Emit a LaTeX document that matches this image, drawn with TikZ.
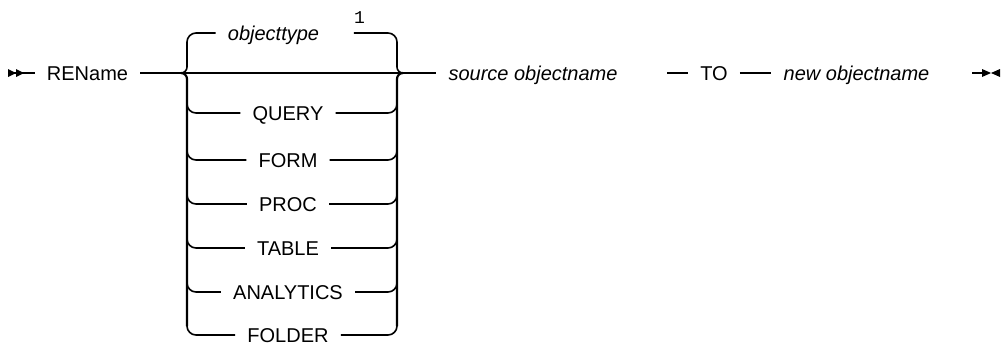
\documentclass[tikz,border=0pt]{standalone}
\usepackage{fontspec}
\setmainfont{Liberation Sans}
\newfontfamily\notefont{Liberation Mono}
\usepackage{tikz}
\tikzset{
  sd diagram/.style={font=\fontsize{20}{24}\selectfont, text=black},
  sd rail/.style={draw=black, line width=1.6pt},
  sd bar/.style={sd rail, line width=2.2pt},
  sd turn/.style={sd rail, rounded corners=9pt},
  sd tip/.style={fill=black},
  sd kw/.style={inner xsep=12pt, inner ysep=0pt, text height=14pt, text depth=0pt},
  sd var/.style={sd kw, font=\fontsize{20}{24}\selectfont\itshape},
  sd note/.style={inner sep=0pt, text depth=0pt, font=\notefont\fontsize{18}{20}\selectfont}
}

\begin{document}
\begin{tikzpicture}[sd diagram,x=1pt,y=-1pt]
\useasboundingbox (0,0) rectangle (1001,346);
\coordinate (begin) at (8,73);
\coordinate (jl) at (181,73);
\coordinate (jr) at (403,73);
\coordinate (ltop) at (187,42);
\coordinate (lup) at (187,67);
\coordinate (ldown) at (187,79);
\coordinate (lbot) at (187,326);
\coordinate (rtop) at (397,42);
\coordinate (rup) at (397,67);
\coordinate (rdown) at (397,79);
\coordinate (rbot) at (397,326);
\coordinate (toin) at (667,73);
\coordinate (finish) at (972,73);
\node[sd kw] (rename) at (87.5,73) {REName};
\node[sd var] (objtype) at (273.5,33) {objecttype};
\node[sd note] (fn) at (359.5,17.5) {1};
\node[sd kw] (query) at (288,113) {QUERY};
\node[sd kw] (form) at (288,160) {FORM};
\node[sd kw] (proc) at (288,204) {PROC};
\node[sd kw] (table) at (288,248) {TABLE};
\node[sd kw] (analytics) at (288,292) {ANALYTICS};
\node[sd kw] (folder) at (288,335) {FOLDER};
\node[sd var] (source) at (533,73) {source objectname};
\node[sd kw] (to) at (714,73) {TO};
\node[sd var] (newname) at (856.5,73) {new objectname};
\draw[sd rail] (begin) -- (rename.west);
\fill[sd tip] (begin) ++(0,-4) -- ++(8,4) -- ++(-8,4) -- cycle;
\fill[sd tip] (begin) ++(8,-4) -- ++(8,4) -- ++(-8,4) -- cycle;
\draw[sd rail] (rename.east) -- (jl) -- (jr) -- (source.west);
\draw[sd rail] (jl) to[out=0,in=-90] (lup) -- (ltop);
\draw[sd bar] (jl) to[out=0,in=90] (ldown) -- (lbot);
\draw[sd rail] (jr) to[out=180,in=-90] (rup) -- (rtop);
\draw[sd bar] (jr) to[out=180,in=90] (rdown) -- (rbot);
\draw[sd turn] (ltop) |- (objtype.west);
\draw[sd turn] (fn.west |- objtype) -| (rtop);
\draw[sd turn] (ltop |- query) ++(0,-9) |- (query.west);
\draw[sd turn] (query.east) -- (rtop |- query) -- ++(0,-9);
\draw[sd turn] (ltop |- form) ++(0,-9) |- (form.west);
\draw[sd turn] (form.east) -- (rtop |- form) -- ++(0,-9);
\draw[sd turn] (ltop |- proc) ++(0,-9) |- (proc.west);
\draw[sd turn] (proc.east) -- (rtop |- proc) -- ++(0,-9);
\draw[sd turn] (ltop |- table) ++(0,-9) |- (table.west);
\draw[sd turn] (table.east) -- (rtop |- table) -- ++(0,-9);
\draw[sd turn] (ltop |- analytics) ++(0,-9) |- (analytics.west);
\draw[sd turn] (analytics.east) -- (rtop |- analytics) -- ++(0,-9);
\draw[sd turn] (lbot) |- (folder.west);
\draw[sd turn] (folder.east) -| (rbot);
\draw[sd rail] (toin) -- (to.west);
\draw[sd rail] (to.east) -- (newname.west);
\draw[sd rail] (finish) -- ++(11,0);
\fill[sd tip] (finish) ++(10,-4) -- ++(9,4) -- ++(-9,4) -- cycle;
\fill[sd tip] (finish) ++(28,-4) -- ++(-9,4) -- ++(9,4) -- cycle;
\end{tikzpicture}
\end{document}
